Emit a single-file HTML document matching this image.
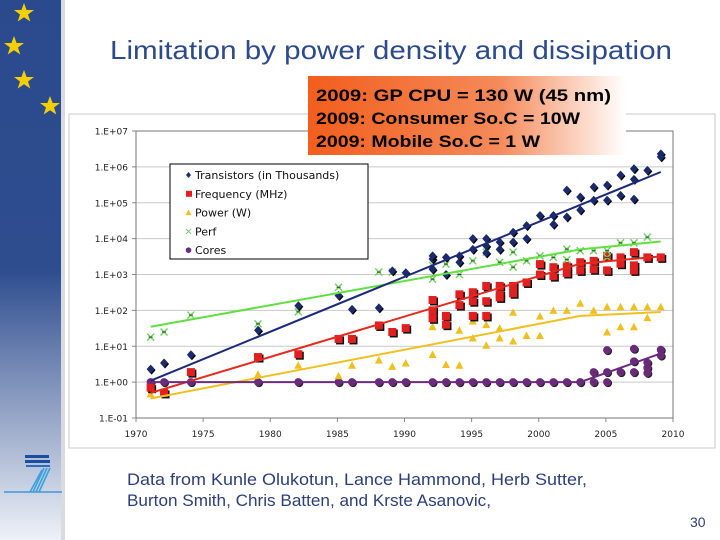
<!DOCTYPE html>
<html><head><meta charset="utf-8"><style>
html,body{margin:0;padding:0;background:#fff;}
#wrap{position:relative;width:720px;height:540px;overflow:hidden;font-family:"Liberation Sans",sans-serif;}
</style></head><body>
<div id="wrap">
<svg id="svg" width="720" height="540" viewBox="0 0 720 540" xmlns="http://www.w3.org/2000/svg">
<defs>
<linearGradient id="ban" x1="0" y1="0" x2="0" y2="1">
<stop offset="0" stop-color="#2b4a8e"/><stop offset="0.5" stop-color="#2e4d8f"/><stop offset="1" stop-color="#eef1f7"/>
</linearGradient>
<linearGradient id="org" x1="0" y1="0" x2="1" y2="0">
<stop offset="0" stop-color="#f25e1c"/><stop offset="0.6" stop-color="#f58a5a"/><stop offset="1" stop-color="#ffffff"/>
</linearGradient>
</defs>
<rect x="0" y="0" width="61" height="540" fill="url(#ban)"/>
<rect x="61" y="0" width="4" height="540" fill="#d8dbe0"/>
<g fill="#f5d000">
<polygon points="24,3 26.6,10 34,10 28,14.5 30.3,21.5 24,17.2 17.7,21.5 20,14.5 14,10 21.4,10"/>
<polygon points="14,36 16.6,43 24,43 18,47.5 20.3,54.5 14,50.2 7.7,54.5 10,47.5 4,43 11.4,43"/>
<polygon points="24,70 26.6,77 34,77 28,81.5 30.3,88.5 24,84.2 17.7,88.5 20,81.5 14,77 21.4,77"/>
<polygon points="50,96 52.6,103 60,103 54,107.5 56.3,114.5 50,110.2 43.7,114.5 46,107.5 40,103 47.4,103"/>
</g>
<g>
<rect x="25" y="455" width="24" height="3" fill="#1a4fa0"/>
<rect x="25" y="460" width="25" height="3" fill="#1a4fa0"/>
<rect x="26" y="465" width="24" height="2" fill="#2a6cc0"/>
<path d="M44,468 L33,492 M47,468 L36,492 M50,468 L39,492 M42,470 L30,492" stroke="#3aa0e0" stroke-width="1.6" fill="none"/>
<line x1="4" y1="492" x2="62" y2="492" stroke="#3a9ad8" stroke-width="1.5"/>
</g>
<text x="110" y="59" font-size="26" fill="#2c4a8c" textLength="562" lengthAdjust="spacingAndGlyphs">Limitation by power density and dissipation</text>
<rect x="69" y="114" width="646" height="334" fill="#fff" stroke="#c8c8c8"/>
<g id="chart"></g>
<rect x="308" y="76" width="318" height="79" fill="url(#org)"/>
<g font-size="17" font-weight="bold" fill="#000">
<text x="316" y="101" textLength="295" lengthAdjust="spacingAndGlyphs">2009: GP CPU = 130 W (45  nm)</text>
<text x="316" y="124" textLength="264" lengthAdjust="spacingAndGlyphs">2009: Consumer So.C = 10W</text>
<text x="316" y="147" textLength="224" lengthAdjust="spacingAndGlyphs">2009: Mobile So.C = 1 W</text>
</g>
<g font-size="17" fill="#2d3f7a">
<text x="127" y="485" textLength="460" lengthAdjust="spacingAndGlyphs">Data from Kunle Olukotun, Lance Hammond, Herb Sutter,</text>
<text x="127" y="506" textLength="364" lengthAdjust="spacingAndGlyphs">Burton Smith, Chris Batten, and Krste Asanovic,</text>
</g>
<text x="690" y="527" font-size="14" fill="#2d3f7a">30</text>
</svg>
</div>
<script>
const yTickLabels=["1.E-01","1.E+00","1.E+01","1.E+02","1.E+03","1.E+04","1.E+05","1.E+06","1.E+07"];
const yTickValues=[0.1,1,10,100,1000,10000,100000,1000000,10000000];
const xTickLabels=["1970","1975","1980","1985","1990","1995","2000","2005","2010"];
const xTickValues=[1970,1975,1980,1985,1990,1995,2000,2005,2010];

const transYears=[1971,1972,1974,1979,1982,1985,1986,1988,1989,1990,1992,1992,1992,1993,1993,1994,1994,1995,1995,1996,1996,1996,1997,1997,1998,1998,1999,1999,2000,2001,2001,2002,2002,2003,2003,2004,2004,2005,2005,2006,2006,2007,2007,2007,2008,2009,2009];
const transValues=[2.3,3.4,5.8,28,135,260,107,117,1260,1120,2700,1400,3300,3000,1000,2200,3300,10000,5000,10000,6300,4000,8000,5000,8000,15000,23000,10000,44000,44000,25000,224000,40000,145000,63000,275000,117000,310000,117000,590000,160000,890000,126000,450000,800000,2300000,1900000];
const freqYears=[1971,1972,1974,1979,1982,1985,1986,1988,1989,1990,1992,1992,1992,1993,1993,1994,1994,1995,1995,1995,1996,1996,1996,1997,1997,1997,1998,1998,1999,2000,2000,2001,2001,2002,2002,2003,2003,2004,2004,2005,2005,2006,2006,2007,2007,2007,2008,2009];
const freqValues=[0.7,0.5,1.9,5,6,16,16,38,25,32,195,100,60,70,40,280,140,320,180,70,480,180,70,480,280,230,480,300,600,1000,1950,900,1600,1740,1100,2200,1300,2400,1400,3300,1300,3000,2000,4200,1800,1300,3000,3000];
const powerYears=[1971,1972,1979,1982,1985,1986,1988,1989,1990,1992,1992,1993,1994,1994,1995,1995,1996,1996,1997,1997,1998,1998,1999,2000,2000,2001,2002,2003,2004,2005,2005,2006,2006,2007,2007,2008,2008,2009];
const powerValues=[0.47,0.49,1.66,2.95,1.5,2.95,4.1,2.75,3.4,35,5.9,3.1,28,2.95,50,17,40,10.7,32,17,89,14,20,69,20,100,100,158,100,126,25,126,35,126,35,126,63,126];
const perfYears=[1971,1972,1974,1979,1982,1985,1988,1989,1992,1992,1993,1994,1995,1996,1997,1998,1998,1999,2000,2001,2002,2002,2003,2004,2005,2005,2006,2007,2008];
const perfValues=[18,25,74,42,91,440,1170,1170,740,1800,1950,1000,2400,4200,2200,4200,1600,2400,3300,3000,5100,2600,4600,4600,4600,3000,7600,7600,11000];
const coreYears=[1971,1972,1974,1979,1982,1985,1986,1988,1989,1990,1992,1993,1994,1995,1996,1997,1998,1999,2000,2001,2002,2003,2004,2005,2004,2005,2005,2006,2007,2007,2007,2008,2008,2008,2009,2009];
const coreValues=[1,1,1,1,1,1,1,1,1,1,1,1,1,1,1,1,1,1,1,1,1,1,1,1,1.9,7.8,1.9,1.9,8.5,3.8,1.9,3.5,2.5,1.8,8,5.5];

const transTrendYears=[1971,2009];const transTrendValues=[1.1,720000];
const freqTrendYears=[1971,2003,2009];const freqTrendValues=[0.5,2000,3200];
const powerTrendYears=[1971,2003,2009];const powerTrendValues=[0.35,70,90];
const perfTrendYears=[1971,2003,2009];const perfTrendValues=[35,5000,8300];
const coreTrendYears=[1971,2003,2009];const coreTrendValues=[1,1,6.3];

const X0=136,X1=673,Y0=418,Y1=131;
function xs(yr){return X0+(yr-1970)/40*(X1-X0)+1.2;}
function ys(v){return Y0-(Math.log10(v)+1)/8*(Y0-Y1);}
const NS="http://www.w3.org/2000/svg";
const chart=document.getElementById('chart');
function mk(tag,attrs,parent){const e=document.createElementNS(NS,tag);for(const k in attrs)e.setAttribute(k,attrs[k]);(parent||chart).appendChild(e);return e;}

yTickValues.forEach((v,i)=>{
  const y=ys(v);
  if(i>0&&i<yTickValues.length-1){const g=mk('line',{x1:X0,x2:X1,y1:y,y2:y,stroke:'#c9c9c9','stroke-width':1});
  
  }
  const t=mk('line',{x1:X0-4,x2:X0,y1:y,y2:y,stroke:'#888'});
  
  
  const l=mk('text',{x:128,y:y+3.5,'font-size':9,'text-anchor':'end',fill:'#222','font-family':'DejaVu Sans, sans-serif'});
  l.textContent=yTickLabels[i];
  
  
});
xTickValues.forEach((v,i)=>{
  const x=X0+(v-1970)/40*(X1-X0);
  const t=mk('line',{x1:x,x2:x,y1:Y0,y2:Y0+4,stroke:'#888'});
  
  
  const l=mk('text',{x:x,y:437,'font-size':9,'text-anchor':'middle',fill:'#222','font-family':'DejaVu Sans, sans-serif'});
  l.textContent=xTickLabels[i];
  
  
});
const box=mk('rect',{x:X0,y:Y1,width:X1-X0,height:Y0-Y1,fill:'none',stroke:'#777','stroke-width':1});



function trend(yrs,vals,color,name){
  const p=mk('polyline',{points:yrs.map((y,i)=>xs(y)+','+ys(vals[i])).join(' '),fill:'none',stroke:color,'stroke-width':2});
  
  
}
function marker(type,x,y,color,parent){
  let e;
  if(type==='diamond'){mk('polygon',{points:`${x+1},${y-3.5} ${x+5},${y+1} ${x+1},${y+5.5} ${x-3},${y+1}`,fill:'#000'},parent);e=mk('polygon',{points:`${x},${y-4.5} ${x+4},${y} ${x},${y+4.5} ${x-4},${y}`,fill:color},parent);}
  else if(type==='square'){mk('rect',{x:x-2.5,y:y-2.5,width:8,height:8,fill:'#111'},parent);e=mk('rect',{x:x-4,y:y-4,width:8,height:8,fill:color},parent);}
  else if(type==='tri'){e=mk('polygon',{points:`${x},${y-4} ${x+4},${y+3.5} ${x-4},${y+3.5}`,fill:color},parent);}
  else if(type==='x'){e=mk('path',{d:`M${x-3.5},${y-3.5}L${x+3.5},${y+3.5}M${x+3.5},${y-3.5}L${x-3.5},${y+3.5}`,stroke:color,'stroke-width':1.4},parent);mk('path',{d:`M${x-2},${y}L${x+2},${y}`,stroke:'#1a5020','stroke-width':1},parent);}
  else {mk('circle',{cx:x+1,cy:y+1,r:4,fill:'#222'},parent);e=mk('circle',{cx:x,cy:y,r:4,fill:color},parent);}
  return e;
}
function series(yrs,vals,type,color,name){
  const g=mk('g',{});
  
  
  yrs.forEach((yr,i)=>{const m=marker(type,xs(yr),ys(vals[i]),color,g);
    
    });
}
series(coreYears,coreValues,'circle','#6a2a7a','cores');
series(powerYears,powerValues,'tri','#f0c020','power');
series(freqYears,freqValues,'square','#e02020','frequency');
series(perfYears,perfValues,'x','#70d060','perf');
series(transYears,transValues,'diamond','#1a2a6a','transistors');
trend(powerTrendYears,powerTrendValues,'#f0c020','power-trendline');
trend(freqTrendYears,freqTrendValues,'#e42a1e','frequency-trendline');
trend(perfTrendYears,perfTrendValues,'#60e040','perf-trendline');
trend(transTrendYears,transTrendValues,'#1c2a78','transistors-trendline');
trend(coreTrendYears,coreTrendValues,'#6c2a80','cores-trendline');

const leg=mk('g',{});


mk('rect',{x:170,y:164,width:198,height:95,fill:'#fff',stroke:'#000','stroke-width':1},leg);
const legLabels=["Transistors (in Thousands)","Frequency (MHz)","Power (W)","Perf","Cores"];
const legTypes=['diamond','square','tri','x','circle'];
const legColors=['#1a2a6a','#e02020','#f0c020','#70d060','#6a2a7a'];
legLabels.forEach((lab,i)=>{
  const y=175+i*18.8;
  const g=mk('g',{},leg);
  
  
  if(legTypes[i]==='square'){mk('rect',{x:186,y:y-3,width:6,height:6,fill:legColors[i]},g);}
  else if(legTypes[i]==='x'){mk('path',{d:`M${186},${y-2.5}L${191},${y+2.5}M${191},${y-2.5}L${186},${y+2.5}`,stroke:'#7c7',"stroke-width":1},g);}
  else if(legTypes[i]==='tri'){mk('polygon',{points:`188.5,${y-3} 191.5,${y+2.5} 185.5,${y+2.5}`,fill:legColors[i]},g);}
  else if(legTypes[i]==='diamond'){mk('polygon',{points:`188.5,${y-3} 191,${y} 188.5,${y+3} 186,${y}`,fill:legColors[i]},g);}
  else {mk('circle',{cx:188.5,cy:y,r:2.8,fill:legColors[i]},g);}
  const t=mk('text',{x:195,y:y+4,'font-size':11,fill:'#111','font-family':'DejaVu Sans, sans-serif'},g);
  t.textContent=lab;
});
</script>
</body></html>
